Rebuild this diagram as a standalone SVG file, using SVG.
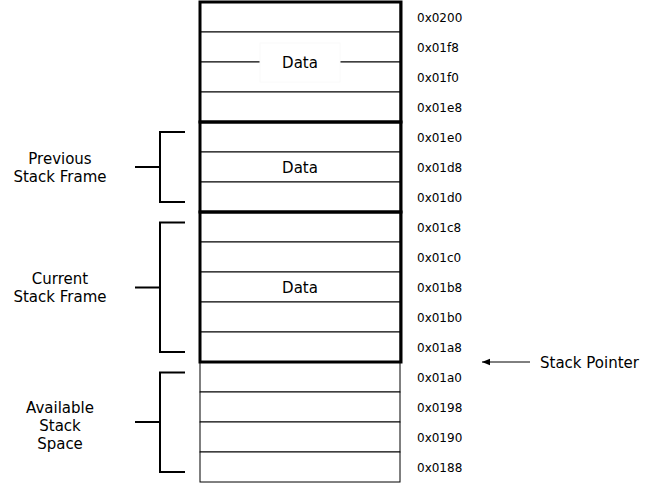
<svg xmlns="http://www.w3.org/2000/svg" width="651" height="483" viewBox="0 0 651 483">
<defs>
<style>
text{font-family:"DejaVu Sans",sans-serif;fill:#000}
.lbl{font-size:15px;text-anchor:middle;dominant-baseline:central}
.addr{font-size:12px;dominant-baseline:central}
.cell{fill:#fff;stroke:#000;stroke-width:1}
.frame{fill:none;stroke:#000;stroke-width:3}
.br{fill:none;stroke:#000;stroke-width:2}
</style>
<marker id="ah" viewBox="0 0 10 10" refX="10" refY="5" markerWidth="8" markerHeight="8" orient="auto-start-reverse" markerUnits="userSpaceOnUse"><path d="M0,1 L10,5 L0,9 z" fill="#000"/></marker>
</defs>
<g id="cells">
<rect class="cell" x="200" y="2" width="200" height="30"/>
<rect class="cell" x="200" y="32" width="200" height="30"/>
<rect class="cell" x="200" y="62" width="200" height="30"/>
<rect class="cell" x="200" y="92" width="200" height="30"/>
<rect class="cell" x="200" y="122" width="200" height="30"/>
<rect class="cell" x="200" y="152" width="200" height="30"/>
<rect class="cell" x="200" y="182" width="200" height="30"/>
<rect class="cell" x="200" y="212" width="200" height="30"/>
<rect class="cell" x="200" y="242" width="200" height="30"/>
<rect class="cell" x="200" y="272" width="200" height="30"/>
<rect class="cell" x="200" y="302" width="200" height="30"/>
<rect class="cell" x="200" y="332" width="200" height="30"/>
<rect class="cell" x="200" y="362" width="200" height="30"/>
<rect class="cell" x="200" y="392" width="200" height="30"/>
<rect class="cell" x="200" y="422" width="200" height="30"/>
<rect class="cell" x="200" y="452" width="200" height="30"/>
</g>
<g id="frame-top">
<rect class="frame" x="200" y="2" width="201" height="120"/>
<rect x="260" y="43" width="80" height="39" fill="#fff" stroke="#fafafa" stroke-width="1"/>
<text class="lbl" x="300" y="63">Data</text>
</g>
<g id="frame-previous">
<rect class="frame" x="200" y="122" width="201" height="90"/>
<text class="lbl" x="300" y="168">Data</text>
</g>
<g id="frame-current">
<rect class="frame" x="200" y="212" width="201" height="150"/>
<text class="lbl" x="300" y="288">Data</text>
</g>
<g id="addresses">
<text class="addr" x="417" y="18">0x0200</text>
<text class="addr" x="417" y="48">0x01f8</text>
<text class="addr" x="417" y="78">0x01f0</text>
<text class="addr" x="417" y="108">0x01e8</text>
<text class="addr" x="417" y="138">0x01e0</text>
<text class="addr" x="417" y="168">0x01d8</text>
<text class="addr" x="417" y="198">0x01d0</text>
<text class="addr" x="417" y="228">0x01c8</text>
<text class="addr" x="417" y="258">0x01c0</text>
<text class="addr" x="417" y="288">0x01b8</text>
<text class="addr" x="417" y="318">0x01b0</text>
<text class="addr" x="417" y="348">0x01a8</text>
<text class="addr" x="417" y="378">0x01a0</text>
<text class="addr" x="417" y="408">0x0198</text>
<text class="addr" x="417" y="438">0x0190</text>
<text class="addr" x="417" y="468">0x0188</text>
</g>
<g id="label-previous">
<path class="br" d="M185,132 H160 V202 H185 M160,167 H135"/>
<text class="lbl" x="60" y="159">Previous</text>
<text class="lbl" x="60" y="177">Stack Frame</text>
</g>
<g id="label-current">
<path class="br" d="M185,222.5 H160 V352 H185 M160,287.5 H135"/>
<text class="lbl" x="60" y="279">Current</text>
<text class="lbl" x="60" y="297">Stack Frame</text>
</g>
<g id="label-available">
<path class="br" d="M185,372.5 H160 V472 H185 M160,422 H135"/>
<text class="lbl" x="60" y="408">Available</text>
<text class="lbl" x="60" y="426">Stack</text>
<text class="lbl" x="60" y="444">Space</text>
</g>
<g id="connectors">
<line x1="530" y1="362" x2="482" y2="362" stroke="#000" stroke-width="1" marker-end="url(#ah)"/>
</g>
<g id="stack-pointer">
<text x="540" y="363" style="font-size:15px;dominant-baseline:central">Stack Pointer</text>
</g>
</svg>
